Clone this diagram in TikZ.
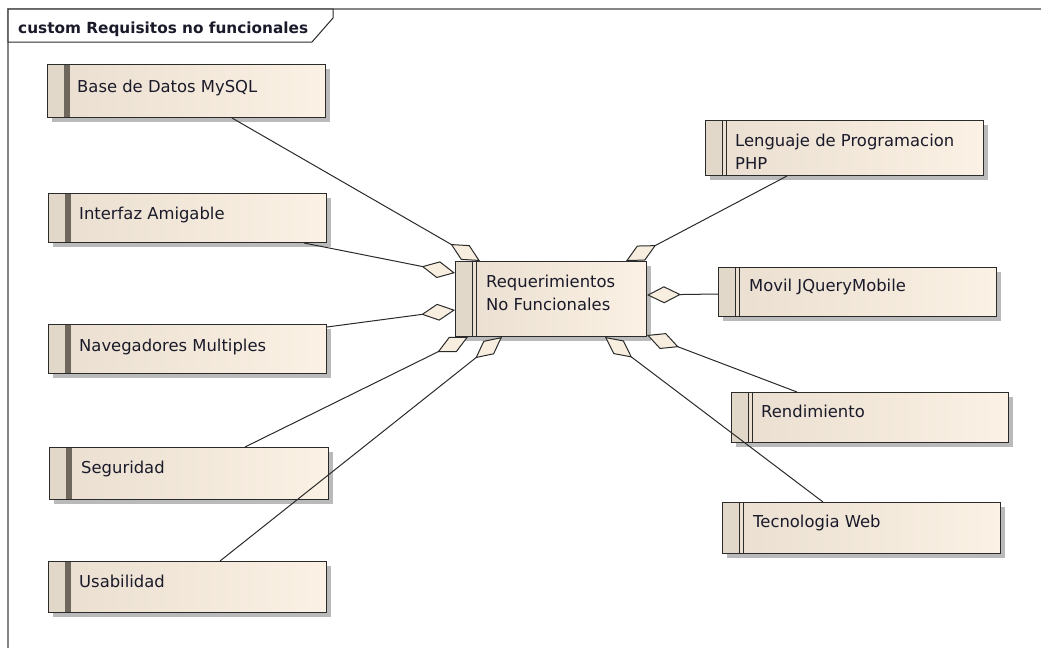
\documentclass[tikz,border=0pt]{standalone}
\usepackage{fontspec}
\newfontfamily\diagfont{DejaVu Sans}
\usetikzlibrary{arrows.meta,shadows,calc}

% palette
\definecolor{boxline}{HTML}{2B2B2B}
\definecolor{stripfill}{HTML}{E2D8CA}
\definecolor{tanL}{HTML}{E9DECF}
\definecolor{tanR}{HTML}{FBF1E4}
\definecolor{barcol}{HTML}{6E675E}
\definecolor{diafill}{HTML}{F8EEDF}
\definecolor{conn}{HTML}{2A2A2A}
\definecolor{framecol}{HTML}{858585}
\definecolor{txtcol}{HTML}{1A1A2A}

\tikzset{
  reqbox/.style={rectangle, draw=boxline, line width=1pt, inner sep=0pt, anchor=north west,
    left color=tanL, right color=tanR,
    drop shadow={shadow xshift=4pt, shadow yshift=-4pt, fill=black!45, opacity=0.6}},
  % requirement with a thick dark bar on its left side
  barbox/.style={reqbox, path picture={
      \fill[stripfill] (path picture bounding box.north west) rectangle ([xshift=16pt]path picture bounding box.south west);
      \fill[barcol] ([xshift=16pt]path picture bounding box.north west) rectangle ([xshift=22.5pt]path picture bounding box.south west);}},
  % requirement with a double thin line on its left side
  linebox/.style={reqbox, path picture={
      \fill[stripfill] (path picture bounding box.north west) rectangle ([xshift=17pt]path picture bounding box.south west);
      \draw[boxline, line width=1pt] ([xshift=17pt]path picture bounding box.north west) -- ([xshift=17pt]path picture bounding box.south west);
      \draw[boxline, line width=1pt] ([xshift=21pt]path picture bounding box.north west) -- ([xshift=21pt]path picture bounding box.south west);}},
  txt/.style={font=\diagfont\fontsize{16.4}{22.5}\selectfont, text=txtcol, inner sep=0pt, align=left},
  agg/.style={draw=conn, line width=1pt, -{Diamond[length=34pt, width=17pt, fill=diafill]}}
}

\begin{document}
\begin{tikzpicture}[x=1pt, y=-1pt]
\useasboundingbox (0,0) rectangle (1041,648);

% diagram frame and its name tab
\draw[framecol, line width=2pt] (8,648) -- (8,9) -- (1041,9);
\draw[fill=white, draw=boxline, line width=1pt] (8,9) -- (333,9) -- (333,18) -- (312,42) -- (8,42) -- cycle;
\node[font=\diagfont\bfseries\fontsize{15.3}{18}\selectfont, text=txtcol, anchor=base west, inner sep=0pt] (title) at (18,33) {custom Requisitos no funcionales};

% requirement boxes, left column
\node[barbox, minimum width=278pt, minimum height=53pt] (base) at (47,64) {};
\node[barbox, minimum width=278pt, minimum height=49pt] (interfaz) at (48,193) {};
\node[barbox, minimum width=278pt, minimum height=49pt] (nav) at (48,324) {};
\node[barbox, minimum width=279pt, minimum height=52pt] (seg) at (49,447) {};
\node[barbox, minimum width=278pt, minimum height=51pt] (usa) at (48,561) {};

% central requirement
\node[linebox, minimum width=191pt, minimum height=75pt] (req) at (455,261) {};

% requirement boxes, right column
\node[linebox, minimum width=278pt, minimum height=55pt] (php) at (705,120) {};
\node[linebox, minimum width=278pt, minimum height=49pt] (movil) at (718,267) {};
\node[linebox, minimum width=277pt, minimum height=50pt] (rend) at (731,392) {};
\node[linebox, minimum width=278pt, minimum height=51pt] (tec) at (722,502) {};

% labels
\node[txt, anchor=base west] (base-t) at ($(base.north west)+(30,28)$) {Base de Datos MySQL};
\node[txt, anchor=base west] (interfaz-t) at ($(interfaz.north west)+(31,26)$) {Interfaz Amigable};
\node[txt, anchor=base west] (nav-t) at ($(nav.north west)+(31,27)$) {Navegadores Multiples};
\node[txt, anchor=base west] (seg-t) at ($(seg.north west)+(32,26)$) {Seguridad};
\node[txt, anchor=base west] (usa-t) at ($(usa.north west)+(31,26)$) {Usabilidad};
\node[txt, anchor=north west] (req-t) at ($(req.north west)+(31,14)$) {Requerimientos\\No Funcionales};
\node[txt, anchor=north west] (php-t) at ($(php.north west)+(30,14)$) {Lenguaje de Programacion\\PHP};
\node[txt, anchor=base west] (movil-t) at ($(movil.north west)+(31,24)$) {Movil JQueryMobile};
\node[txt, anchor=base west] (rend-t) at ($(rend.north west)+(30,25)$) {Rendimiento};
\node[txt, anchor=base west] (tec-t) at ($(tec.north west)+(31,25)$) {Tecnologia Web};

% aggregation connectors, diamond at the central requirement
\draw[agg] ($(base.south west)+(185,0)$) -- ($(req.north west)+(25,0)$);
\draw[agg] ($(interfaz.south west)+(256,0)$) -- ($(req.north west)+(0,12)$);
\draw[agg] ($(nav.north east)+(0,3)$) -- ($(req.north west)+(0,49)$);
\draw[agg] ($(seg.north west)+(196,0)$) -- ($(req.south west)+(13,0)$);
\draw[agg] ($(usa.north west)+(172,0)$) -- ($(req.south west)+(47,0)$);
\draw[agg] ($(php.south west)+(82,0)$) -- ($(req.north east)+(-21,0)$);
\draw[agg] ($(movil.north west)+(0,27)$) -- ($(req.north east)+(0,34)$);
\draw[agg] ($(rend.north west)+(66,0)$) -- ($(req.south east)+(0,-2)$);
\draw[agg] ($(tec.north west)+(101,0)$) -- ($(req.south west)+(150,0)$);
\end{tikzpicture}
\end{document}
